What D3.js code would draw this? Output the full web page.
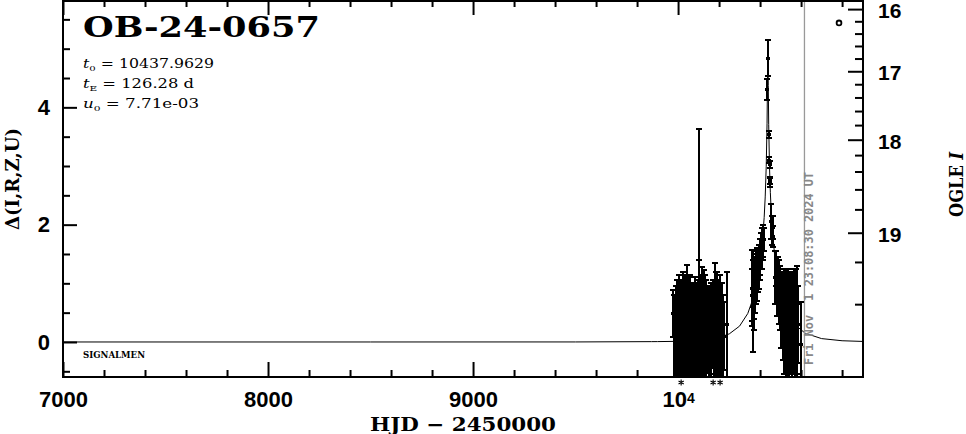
<!DOCTYPE html>
<html><head><meta charset="utf-8">
<script src="https://cdn.jsdelivr.net/npm/d3@7"></script>
<style>
body{margin:0;background:#fff}
svg{display:block;background:#fff}
</style>
</head><body>
<svg id="chart" width="966" height="434"></svg>
<script>
// ---------------- data ----------------
const eventName = "OB-24-0657";
const paramT0 = "10437.9629";
const paramTE = "126.28 d";
const paramU0 = "7.71e-03";
const observatory = "SIGNALMEN";
const nowLabel = "Fri Nov  1 23:08:30 2024 UT";
const nowT = 10616.46;

const xDomain = [7000, 10902];
const yDomain = [-0.597, 5.83];
const xMajorTicks = [7000, 8000, 9000, 10000];
const xMinorTicks = [7200, 7400, 7600, 7800, 8200, 8400, 8600, 8800, 9200, 9400, 9600, 9800, 10200, 10400, 10600, 10800];
const yMajorTicks = [0, 2, 4];
const yMinorTicks = [-0.5, 0.5, 1, 1.5, 2.5, 3, 3.5, 4.5, 5, 5.5];
const magMajorTicks = [16, 17, 18, 19];
const magMinorTicks = [16.2, 16.4, 16.6, 16.8, 17.2, 17.4, 17.6, 17.8, 18.2, 18.4, 18.6, 18.8, 19.2, 19.4];
const magBase = 19.51, blendFs = 0.1315;   // OGLE I baseline and source fraction (right axis transform)

// photometry (HJD-2450000, Δ mag, error)
const dataT = [
 9976, 9979, 9983, 9988, 9992, 9996, 10000, 10004, 10008, 10012, 10016, 10020, 10025, 10029, 10033, 10038, 10043, 10047, 10051, 10056,
 10060, 10065, 10070, 10074, 10079, 10084, 10089, 10093, 10098, 10102, 10104, 10110, 10116, 10121, 10127, 10132, 10138, 10144, 10150, 10156,
 10162, 10168, 10174, 10180, 10186, 10191, 10197, 10203, 10209, 10215, 10221, 10226, 10239,
 10361, 10363, 10365, 10366, 10368, 10370, 10372, 10374, 10376, 10378, 10380, 10382, 10384, 10387, 10390, 10393, 10396, 10399, 10402, 10405, 10408, 10412, 10416, 10420,
 10433, 10437.5, 10442, 10445, 10446, 10447, 10448,
 10452, 10458, 10461, 10465, 10474, 10478, 10482, 10486, 10490, 10494, 10498, 10502, 10506, 10510, 10514, 10518, 10522, 10526, 10530, 10534,
 10538, 10542, 10546, 10550, 10554, 10558, 10562, 10566, 10570, 10574, 10578, 10582, 10586, 10601
];
const dataDelta = [
 0.48, 0.10, -0.05, 0.20, -0.20, 0.15, -0.10, 0.30, -0.15, 0.25, 0.05, -0.20, 0.35, 0.00, 0.20, -0.10, 0.40, 0.10, -0.05, 0.30,
 0.15, -0.10, 0.25, 0.05, -0.15, 0.30, 0.00, 0.20, -0.10, 0.60, 0.30, 0.10, 0.35, -0.05, 0.25, 0.10, -0.20, 0.20, 0.00, 0.15,
 -0.10, 0.30, 0.05, 0.40, 0.15, 0.20, -0.05, 0.25, 0.00, 0.20, -0.10, 0.10, 0.30,
 0.92, 0.80, 0.70, 1.00, 0.75, 1.05, 0.90, 1.10, 0.95, 1.20, 1.05, 1.25, 1.10, 1.30, 1.20, 1.35, 1.25, 1.45, 1.40, 1.55, 1.60, 1.70, 1.70, 1.75,
 4.30, 4.84, 3.54, 3.10, 2.72, 3.02, 2.76,
 2.05, 1.90, 1.95, 1.80, 1.10, 1.25, 0.95, 1.05, 0.85, 0.95, 0.75, 0.55, 0.70, 0.45, 0.60, 0.35, 0.55, 0.30, 0.50, 0.25,
 0.45, 0.20, 0.50, 0.30, 0.10, 0.45, 0.25, 0.40, 0.15, 0.35, 0.20, 0.05, 0.30, -0.05
];
const dataErr = [
 0.40, 0.70, 0.82, 0.75, 1.00, 0.90, 1.05, 0.85, 1.10, 0.80, 1.00, 1.20, 0.85, 1.05, 0.95, 1.15, 0.91, 1.00, 1.20, 0.84,
 0.95, 1.05, 0.75, 0.88, 1.15, 0.80, 1.00, 0.73, 1.15, 3.03, 1.09, 1.05, 0.92, 1.15, 0.97, 1.05, 1.25, 0.73, 0.93, 0.80,
 1.10, 0.75, 0.90, 0.94, 1.05, 1.00, 1.10, 0.89, 1.00, 0.80, 0.90, 0.58, 0.89,
 0.64, 0.45, 0.87, 0.40, 0.55, 0.40, 0.50, 0.35, 0.45, 0.35, 0.40, 0.30, 0.40, 0.30, 0.35, 0.30, 0.35, 0.30, 0.35, 0.30, 0.35, 0.30, 0.25, 0.20,
 0.18, 0.30, 0.06, 0.05, 0.08, 0.06, 0.06,
 0.30, 0.25, 0.20, 0.18, 0.45, 0.30, 0.50, 0.40, 0.55, 0.45, 0.55, 0.65, 0.50, 0.75, 0.55, 0.90, 0.65, 0.95, 0.70, 0.85,
 0.80, 1.00, 0.70, 0.85, 0.70, 0.75, 0.79, 0.85, 0.95, 0.90, 1.10, 0.60, 0.65, 0.73
];

// model curve samples
const modelT = [7000, 8500, 9500, 9870, 9900, 10000, 10050, 10100, 10150, 10200, 10250, 10300, 10340, 10370, 10390, 10400, 10410, 10420, 10425, 10430, 10434, 10436, 10438, 10440, 10442, 10446, 10450, 10455, 10460, 10470, 10480, 10500, 10530, 10570, 10620, 10700, 10800, 10902];
const modelDelta = [0, 0.0002, 0.0007, 0.0060, 0.0066, 0.0112, 0.0169, 0.0266, 0.0436, 0.0755, 0.1386, 0.2706, 0.4854, 0.782, 1.107, 1.341, 1.657, 2.124, 2.473, 2.995, 3.729, 4.404, 5.11, 4.37, 3.71, 2.98, 2.552, 2.181, 1.906, 1.515, 1.238, 0.863, 0.5315, 0.2939, 0.1494, 0.0575, 0.0212, 0.009];

const starT = [10015, 10171, 10205];
const ogleMarkerT = [10785];
const ogleMarkerDelta = [5.44];

// ---------------- layout ----------------
const L = 63, R = 863, T = 0, B = 377;
const svg = d3.select("#chart");
const x = d3.scaleLinear().domain(xDomain).range([L, R]);
const y = d3.scaleLinear().domain(yDomain).range([B, T]);
const magToDelta = m => 2.5 * Math.log10((Math.pow(10, 0.4 * (magBase - m)) - 1) / blendFs + 1);

svg.append("defs").append("clipPath").attr("id", "clip")
  .append("rect").attr("x", L).attr("y", T).attr("width", R - L).attr("height", B - T);

const plot = svg.append("g").attr("clip-path", "url(#clip)");

// model
plot.append("path")
  .datum(modelT.map((t, i) => [t, modelDelta[i]]))
  .attr("fill", "none").attr("stroke", "#000").attr("stroke-width", 1)
  .attr("d", d3.line().x(d => x(d[0])).y(d => y(d[1])));

// now line
plot.append("line")
  .attr("x1", x(nowT)).attr("x2", x(nowT)).attr("y1", T).attr("y2", B)
  .attr("stroke", "#999").attr("stroke-width", 1.3);

// error bars
const pts = dataT.map((t, i) => ({t, d: dataDelta[i], e: dataErr[i]}));
const eb = plot.append("g").attr("stroke", "#000").attr("stroke-width", 2).attr("shape-rendering", "crispEdges");
pts.forEach(p => {
  const cx = Math.round(x(p.t)), y1 = y(p.d - p.e), y2 = y(p.d + p.e);
  eb.append("line").attr("x1", cx).attr("x2", cx).attr("y1", y1).attr("y2", y2);
  eb.append("line").attr("x1", cx - 3).attr("x2", cx + 3).attr("y1", y1).attr("y2", y1);
  eb.append("line").attr("x1", cx - 3).attr("x2", cx + 3).attr("y1", y2).attr("y2", y2);
});
plot.append("g").attr("shape-rendering", "crispEdges").selectAll("rect").data(pts).join("rect")
  .attr("x", p => Math.round(x(p.t)) - 2).attr("y", p => y(p.d) - 1.5)
  .attr("width", 4).attr("height", 3).attr("fill", "#000");

// OGLE marker
plot.append("g").selectAll("circle").data(ogleMarkerT).join("circle")
  .attr("cx", (t) => x(t)).attr("cy", (t, i) => y(ogleMarkerDelta[i]))
  .attr("r", 2.4).attr("fill", "none").attr("stroke", "#000").attr("stroke-width", 1.8);

// timestamp
svg.append("text")
  .attr("transform", `translate(${x(nowT) + 9},365) rotate(-90)`)
  .attr("font-family", "DejaVu Sans Mono").attr("font-weight", "bold")
  .attr("font-size", 11.5).attr("fill", "#888")
  .attr("textLength", 193).attr("lengthAdjust", "spacingAndGlyphs")
  .style("white-space", "pre")
  .text(nowLabel);

// ---------------- axes ----------------
function styleAxis(g) {
  g.select(".domain").remove();
  g.selectAll(".tick line").attr("stroke", "#000").attr("stroke-width", 2);
  g.selectAll(".tick text").attr("fill", "#000")
    .attr("font-family", "Liberation Sans").attr("font-weight", "bold").attr("font-size", 22);
}
// bottom
const gxb = svg.append("g").attr("transform", `translate(0,${B})`)
  .call(d3.axisBottom(x).tickValues(xMajorTicks).tickSize(-15).tickPadding(14)
    .tickFormat(d => d === 10000 ? "" : d3.format("d")(d)));
styleAxis(gxb);
gxb.selectAll(".tick text").filter(d => d === 10000).each(function () {
  const t = d3.select(this);
  t.append("tspan").text("10");
  t.append("tspan").attr("dy", "-0.25em").attr("font-size", 14).text("4");
});
svg.append("g").attr("transform", `translate(0,${B})`)
  .call(d3.axisBottom(x).tickValues(xMinorTicks).tickSize(-7).tickFormat(""))
  .call(styleAxis);
// top
svg.append("g").attr("transform", `translate(0,${T})`)
  .call(d3.axisTop(x).tickValues(xMajorTicks).tickSize(-15).tickFormat(""))
  .call(styleAxis);
svg.append("g").attr("transform", `translate(0,${T})`)
  .call(d3.axisTop(x).tickValues(xMinorTicks).tickSize(-7).tickFormat(""))
  .call(styleAxis);
// left
svg.append("g").attr("transform", `translate(${L},0)`)
  .call(d3.axisLeft(y).tickValues(yMajorTicks).tickSize(-14).tickPadding(13).tickFormat(d3.format("d")))
  .call(styleAxis);
svg.append("g").attr("transform", `translate(${L},0)`)
  .call(d3.axisLeft(y).tickValues(yMinorTicks).tickSize(-7).tickFormat(""))
  .call(styleAxis);
// right (OGLE I magnitudes)
const gr = svg.append("g").attr("transform", `translate(${R},0)`)
  .call(d3.axisRight(y).tickValues(magMajorTicks.map(magToDelta)).tickSize(-15).tickPadding(15)
    .tickFormat((d, i) => magMajorTicks[i]))
  .call(styleAxis);
gr.selectAll(".tick text").attr("font-size", 21).attr("dy", "0.4em");
svg.append("g").attr("transform", `translate(${R},0)`)
  .call(d3.axisRight(y).tickValues(magMinorTicks.map(magToDelta)).tickSize(-8).tickFormat(""))
  .call(styleAxis);

// frame
svg.append("rect").attr("x", L).attr("y", T + 1).attr("width", R - L).attr("height", B - T - 1)
  .attr("fill", "none").attr("stroke", "#000").attr("stroke-width", 2);

// asterisk markers under the axis (drawn as small line marks)
const starPath = d3.path();
starT.forEach(t => {
  const cx = x(t), cy = 382.5, r = 3;
  starPath.moveTo(cx, cy - r); starPath.lineTo(cx, cy + r);
  starPath.moveTo(cx - r * 0.87, cy - r * 0.5); starPath.lineTo(cx + r * 0.87, cy + r * 0.5);
  starPath.moveTo(cx - r * 0.87, cy + r * 0.5); starPath.lineTo(cx + r * 0.87, cy - r * 0.5);
});
svg.append("path").attr("d", starPath.toString()).attr("stroke", "#000").attr("stroke-width", 1.1).attr("fill", "none");

// ---------------- labels ----------------
svg.append("text").attr("x", 83).attr("y", 37)
  .attr("font-family", "DejaVu Serif").attr("font-weight", "bold").attr("font-size", 27)
  .attr("textLength", 237).attr("lengthAdjust", "spacingAndGlyphs").text(eventName);

function paramLine(yy, sym, sub, val, len) {
  const t = svg.append("text").attr("x", 83).attr("y", yy)
    .attr("font-family", "DejaVu Serif").attr("font-size", 12.5)
    .attr("textLength", len).attr("lengthAdjust", "spacingAndGlyphs");
  t.append("tspan").attr("font-style", "italic").text(sym);
  t.append("tspan").attr("font-size", 8).attr("dy", 3).text(sub);
  t.append("tspan").attr("dy", -3).text(" = " + val);
}
paramLine(68, "t", "0", paramT0, 131);
paramLine(88, "t", "E", paramTE, 111);
paramLine(108, "u", "0", paramU0, 116);

svg.append("text").attr("x", 83).attr("y", 358)
  .attr("font-family", "DejaVu Serif").attr("font-weight", "bold").attr("font-size", 8.5)
  .attr("textLength", 62).attr("lengthAdjust", "spacingAndGlyphs").text(observatory);

svg.append("text").attr("x", 370).attr("y", 431)
  .attr("font-family", "DejaVu Serif").attr("font-weight", "bold").attr("font-size", 19)
  .attr("textLength", 186).attr("lengthAdjust", "spacingAndGlyphs")
  .style("white-space", "pre").text("HJD − 2450000");

svg.append("text").attr("transform", "translate(19,179) rotate(-90)")
  .attr("text-anchor", "middle")
  .attr("font-family", "DejaVu Serif").attr("font-weight", "bold").attr("font-size", 19)
  .attr("textLength", 102).attr("lengthAdjust", "spacingAndGlyphs").text("Δ(I,R,Z,U)");

const rt = svg.append("text").attr("transform", "translate(963,184.5) rotate(-90)")
  .attr("text-anchor", "middle")
  .attr("font-family", "DejaVu Serif").attr("font-weight", "bold").attr("font-size", 18)
  .attr("textLength", 65).attr("lengthAdjust", "spacingAndGlyphs");
rt.append("tspan").text("OGLE ");
rt.append("tspan").attr("font-style", "italic").text("I");
</script>
</body></html>
